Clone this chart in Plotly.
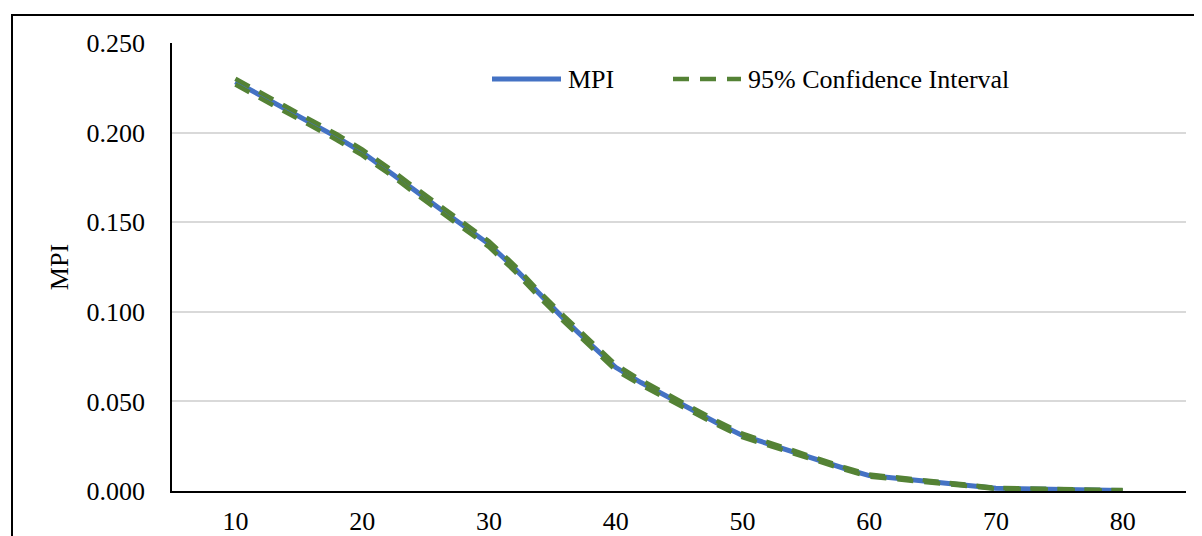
import plotly.graph_objects as go

x_values = [10, 12, 14, 16, 18, 20, 22, 24, 26, 28, 30, 32, 34, 36, 38, 40, 42, 44,
            46, 48, 50, 52, 54, 56, 58, 60, 62, 64, 66, 68, 70, 72, 74, 76, 78, 80]

mpi = [0.2284, 0.2208, 0.2132, 0.2055, 0.1975, 0.1890, 0.1792, 0.1686, 0.1582, 0.1480,
       0.1378, 0.1245, 0.1095, 0.0955, 0.0820, 0.0690, 0.0605, 0.0528, 0.0458, 0.0380,
       0.0310, 0.0263, 0.0218, 0.0172, 0.0127, 0.0086, 0.0072, 0.0057, 0.0042, 0.0027,
       0.0015, 0.0013, 0.0011, 0.0008, 0.0006, 0.0003]

ci_upper = [0.2300, 0.2224, 0.2148, 0.2071, 0.1991, 0.1906, 0.1808, 0.1702, 0.1598, 0.1496,
            0.1394, 0.1261, 0.1111, 0.0971, 0.0836, 0.0705, 0.0619, 0.0541, 0.0470, 0.0391,
            0.0320, 0.0272, 0.0226, 0.0179, 0.0133, 0.0092, 0.0077, 0.0062, 0.0046, 0.0031,
            0.0018, 0.0015, 0.0013, 0.0010, 0.0008, 0.0005]

ci_lower = [0.2268, 0.2192, 0.2116, 0.2039, 0.1959, 0.1874, 0.1776, 0.1670, 0.1566, 0.1464,
            0.1362, 0.1229, 0.1079, 0.0939, 0.0804, 0.0675, 0.0591, 0.0515, 0.0446, 0.0369,
            0.0300, 0.0254, 0.0210, 0.0165, 0.0121, 0.0080, 0.0067, 0.0052, 0.0038, 0.0023,
            0.0012, 0.0011, 0.0009, 0.0006, 0.0004, 0.0001]

x_ticks = [10, 20, 30, 40, 50, 60, 70, 80]
y_ticks = [0.0, 0.05, 0.10, 0.15, 0.20, 0.25]
y_ticklabels = ["0.000", "0.050", "0.100", "0.150", "0.200", "0.250"]
series_names = ["MPI", "95% Confidence Interval"]

FONT = "Liberation Serif"
BLUE = "#4472C4"
GREEN = "#548235"
DASH = "16px,11px"

fig = go.Figure()
fig.add_trace(go.Scatter(x=x_values, y=mpi, mode="lines", name=series_names[0],
                         line=dict(color=BLUE, width=5), showlegend=False))
fig.add_trace(go.Scatter(x=x_values, y=ci_upper, mode="lines", name=series_names[1],
                         line=dict(color=GREEN, width=4.5, dash=DASH), showlegend=False))
fig.add_trace(go.Scatter(x=x_values, y=ci_lower, mode="lines", name=series_names[1],
                         line=dict(color=GREEN, width=4.5, dash=DASH), showlegend=False))

# the page body adds an 8px margin; the figure is sized/positioned to compensate
OFF = 8
W, H = 1202 - OFF, 536 - OFF
L, R, T, B = 172 - OFF, 16, 43 - OFF, 45
pw, ph = W - L - R, H - T - B


def px(xp):
    # xp: pixel x in the target window
    return (xp - OFF - L) / pw


def py(yp):
    # yp: pixel y in the target window
    return (H - B - (yp - OFF)) / ph


legend_y = 79
shapes = [
    # outer chart border
    dict(type="rect", xref="paper", yref="paper",
         x0=px(12), x1=px(1215), y0=py(600), y1=py(15),
         line=dict(color="black", width=2), fillcolor="rgba(0,0,0,0)", layer="above"),
    # legend keys
    dict(type="line", xref="paper", yref="paper", x0=px(492), x1=px(561),
         y0=py(legend_y), y1=py(legend_y), line=dict(color=BLUE, width=5)),
    dict(type="line", xref="paper", yref="paper", x0=px(673), x1=px(741),
         y0=py(legend_y), y1=py(legend_y), line=dict(color=GREEN, width=4.5, dash=DASH)),
]
annotations = [
    dict(text=series_names[0], xref="paper", yref="paper", x=px(566), y=py(legend_y),
         xanchor="left", yanchor="middle", showarrow=False,
         font=dict(family=FONT, size=26, color="black")),
    dict(text=series_names[1], xref="paper", yref="paper", x=px(746), y=py(legend_y),
         xanchor="left", yanchor="middle", showarrow=False,
         font=dict(family=FONT, size=26, color="black")),
]

fig.update_layout(
    width=W, height=H,
    margin=dict(l=L, r=R, t=T, b=B),
    paper_bgcolor="white", plot_bgcolor="white",
    font=dict(family=FONT, size=26, color="black"),
    showlegend=False,
    xaxis=dict(range=[5, 85], tickmode="array", tickvals=x_ticks,
               ticktext=[str(v) for v in x_ticks], showgrid=False, zeroline=False,
               showline=True, linecolor="black", linewidth=2, ticks="",
               ticklabelstandoff=6, automargin=False,
               tickfont=dict(family=FONT, size=26, color="black")),
    yaxis=dict(range=[0, 0.25], tickmode="array", tickvals=y_ticks, ticktext=y_ticklabels,
               showgrid=True, gridcolor="#D9D9D9", gridwidth=1.5, zeroline=False,
               showline=True, linecolor="black", linewidth=1.5, ticks="",
               ticklabelstandoff=20, automargin=False,
               tickfont=dict(family=FONT, size=26, color="black"),
               title=dict(text="MPI", standoff=10,
                          font=dict(family=FONT, size=26, color="black"))),
    shapes=shapes,
    annotations=annotations,
)

fig.write_html("out.html")
